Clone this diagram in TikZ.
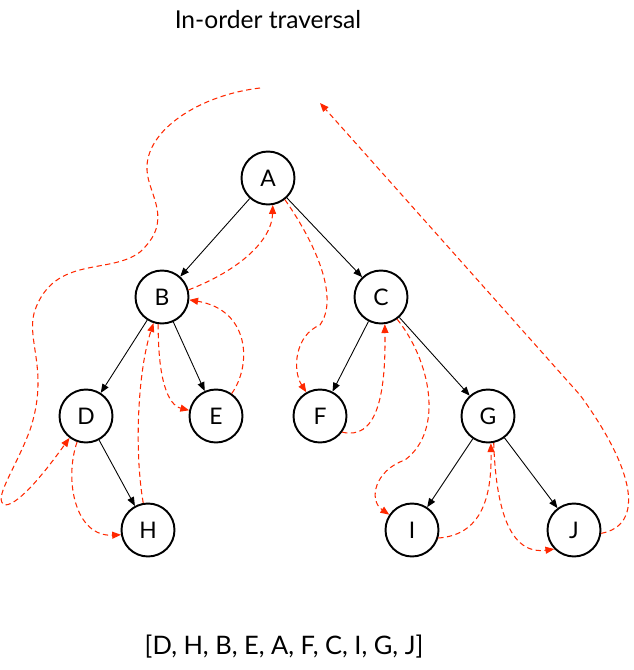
\documentclass[tikz,border=0pt]{standalone}
\usepackage{fontspec}
\setmainfont{Lato}
\usepackage{tikz}
\usetikzlibrary{calc}
\usetikzlibrary{arrows.meta}

\definecolor{trail}{RGB}{255,40,0}

\tikzset{
	vertex/.style={circle, draw, line width=1.1pt, minimum size=1.06cm, inner sep=0pt, font=\fontsize{13}{15}\selectfont},
	edge/.style={-{Triangle[length=5pt,width=4pt]}, line width=0.5pt},
	walk/.style={-{Triangle[length=5pt,width=4pt]}, trail, line width=0.6pt, dash pattern=on 3pt off 2pt}
}

\begin{document}
\begin{tikzpicture}[x=0.02cm, y=-0.02cm]
					\useasboundingbox (0,0) rectangle (634,670);

					\node (title) at (268,20) {\fontsize{14}{16}\selectfont In-order traversal};

					\node[vertex] (A) at (268,178) {A};
					\node[vertex] (B) at (162,297) {B};
					\node[vertex] (C) at (381,297) {C};
					\node[vertex] (D) at (86,416) {D};
					\node[vertex] (E) at (216,416) {E};
					\node[vertex] (F) at (320,416) {F};
					\node[vertex] (G) at (488,416) {G};
					\node[vertex] (H) at (148,530) {H};
					\node[vertex] (I) at (412,530) {I};
					\node[vertex] (J) at (574,530) {J};

					\draw[edge] (A) -- (B);
					\draw[edge] (A) -- (C);
					\draw[edge] (B) -- (D);
					\draw[edge] (B) -- (E);
					\draw[edge] (C) -- (F);
					\draw[edge] (C) -- (G);
					\draw[edge] (D) -- (H);
					\draw[edge] (G) -- (I);
					\draw[edge] (G) -- (J);

					\coordinate (start) at (260,88);
					\coordinate (stop) at (320,103);

					\draw[walk] (start) .. controls (200,95) and (145,130) .. (147,170)
						.. controls (148,195) and (175,220) .. (140,252)
						.. controls (110,275) and (55,255) .. (35,310)
						.. controls (25,340) and (50,370) .. (30,430)
						.. controls (15,470) and (-8,500) .. (5,505)
						.. controls (20,505) and (50,465) .. (D.233);
					\draw[walk] (D.251) .. controls (64,480) and (75,537) .. (H.190);
					\draw[walk] (H.100) .. controls (134,450) and (138,370) .. (B.252);
					\draw[walk] (B.262) .. controls (158,380) and (168,405) .. (E.168);
					\draw[walk] (E.55) .. controls (252,365) and (250,310) .. (B.354);
					\draw[walk] (B.15) .. controls (240,270) and (272,240) .. (A.280);
					\draw[walk] (A.308) .. controls (320,250) and (338,300) .. (320,325)
						.. controls (295,335) and (292,370) .. (F.120);
					\draw[walk] (F.324) .. controls (375,440) and (386,400) .. (C.278);
					\draw[walk] (C.306) .. controls (430,360) and (445,430) .. (405,460)
						.. controls (375,470) and (368,500) .. (I.146);
					\draw[walk] (I.343) .. controls (480,535) and (492,500) .. (G.276);
					\draw[walk] (G.282) .. controls (496,510) and (510,555) .. (J.224);
					\draw[walk] (J.353) .. controls (645,525) and (635,470) .. (580,395) -- (stop);

					\node (order) at (284,647) {\fontsize{14.5}{17}\selectfont [D, H, B, E, A, F, C, I, G, J]};
                \end{tikzpicture}
\end{document}
